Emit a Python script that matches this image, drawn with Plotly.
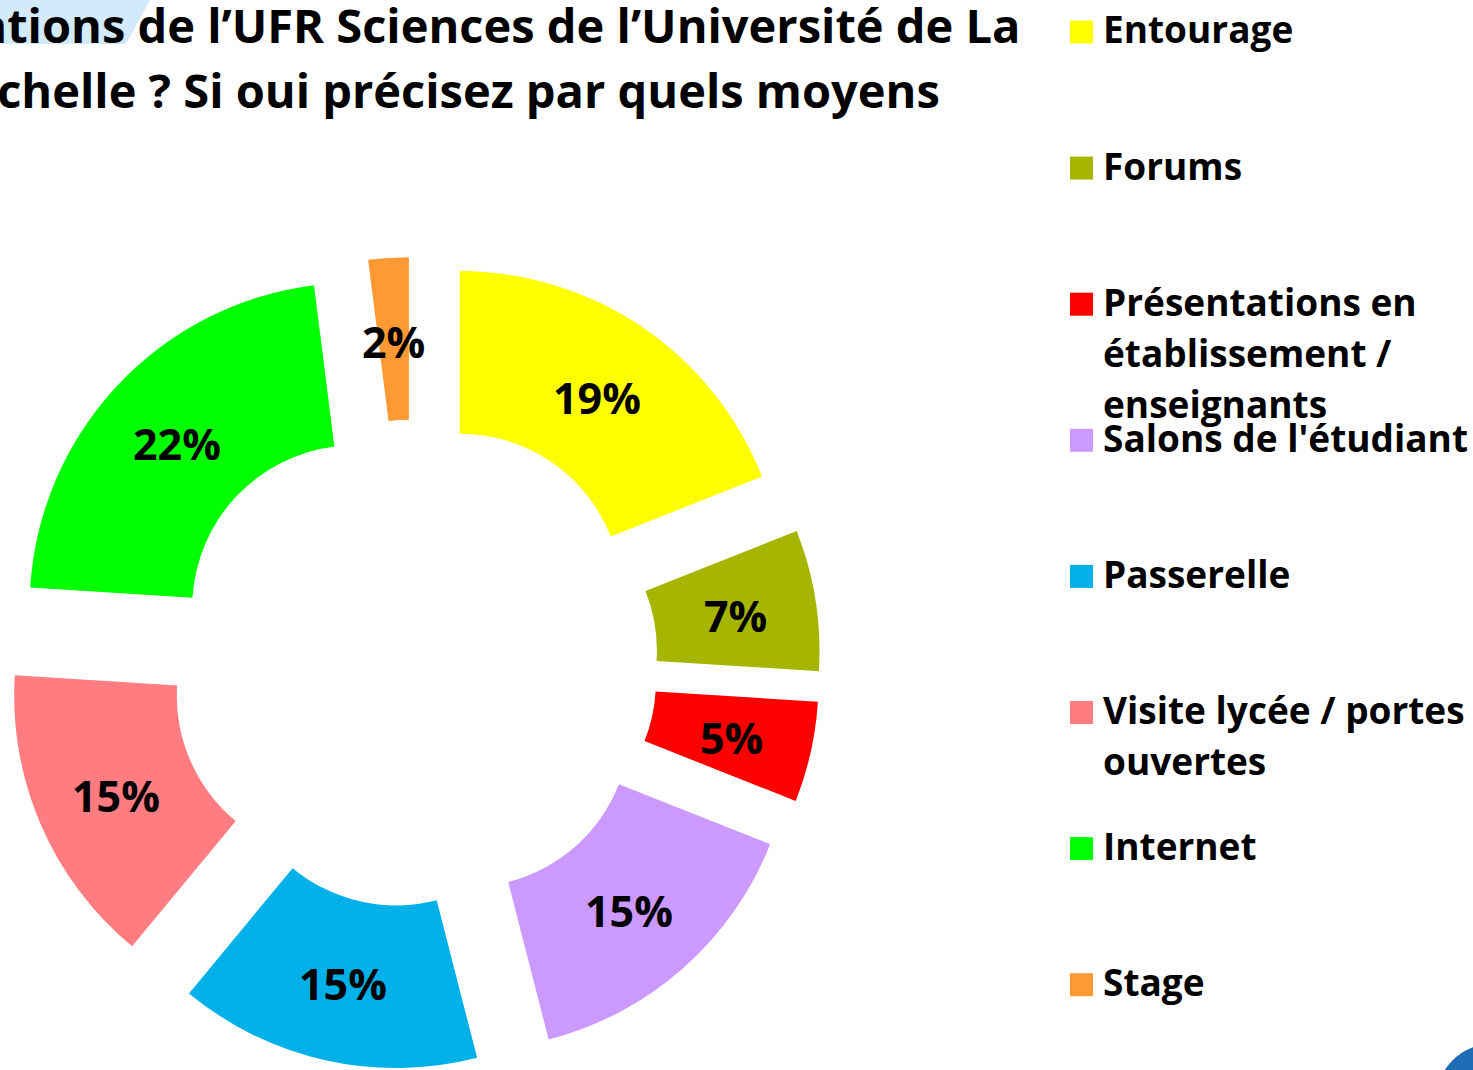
import math
import textwrap
import plotly.graph_objects as go

# ---------------- data ----------------
labels = [
    "Entourage",
    "Forums",
    "Présentations en établissement / enseignants",
    "Salons de l'étudiant",
    "Passerelle",
    "Visite lycée / portes ouvertes",
    "Internet",
    "Stage",
]
values = [19, 7, 5, 15, 15, 15, 22, 2]
colors = ["#FFFF00", "#A6B600", "#FF0000", "#CC99FF", "#00B0E8", "#FF7C80", "#00FF00", "#FF9933"]
title_lines = [
    "formations de l’UFR Sciences de l’Université de La",
    "Rochelle ? Si oui précisez par quels moyens",
]

# ---------------- layout constants ----------------
W, H = 1473, 1070
FONT = "Open Sans"
HOLE = 0.5
PULL = 0.25
DOM_X = [4 / W, 824 / W]
DOM_Y = [0.0, (H - 257) / H]


def px(x):
    return x / W


def py(y):
    return 1 - y / H


fig = go.Figure()
fig.add_trace(
    go.Pie(
        labels=labels,
        values=values,
        marker=dict(colors=colors, line=dict(width=0)),
        hole=HOLE,
        pull=PULL,
        sort=False,
        direction="clockwise",
        rotation=0,
        textinfo="none",
        hoverinfo="label+percent",
        showlegend=False,
        domain=dict(x=DOM_X, y=DOM_Y),
    )
)

annotations = []
shapes = []

# percentage labels, placed at the middle of each (pulled) ring segment
dom_w = (DOM_X[1] - DOM_X[0]) * W
dom_h = (DOM_Y[1] - DOM_Y[0]) * H
R = min(dom_w, dom_h) / 2 / (1 + PULL)
cx = (DOM_X[0] + DOM_X[1]) / 2 * W
cy = H - (DOM_Y[0] + DOM_Y[1]) / 2 * H
total = sum(values)
cum = 0.0
for v in values:
    mid = (cum + v / 2) / total * 2 * math.pi
    cum += v
    dist = PULL * R + (1 + HOLE) / 2 * R
    lx = cx + dist * math.sin(mid)
    ly = cy - dist * math.cos(mid)
    annotations.append(
        dict(
            x=px(lx), y=py(ly + 3), xref="paper", yref="paper",
            text=f"{v / total * 100:.0f}%", showarrow=False,
            xanchor="center", yanchor="middle",
            font=dict(family=FONT, size=43, color="black", weight="bold"),
        )
    )

# legend (Excel-like fixed slots)
LEG_X, LEG_Y0, LEG_STEP, LINE_STEP, SQ = 1070, 32, 136.1, 51, 23
for i, (lab, col) in enumerate(zip(labels, colors)):
    yc = LEG_Y0 + LEG_STEP * i
    shapes.append(
        dict(
            type="rect", xref="paper", yref="paper",
            x0=px(LEG_X), x1=px(LEG_X + SQ), y0=py(yc - SQ / 2), y1=py(yc + SQ / 2),
            fillcolor=col, line=dict(width=0),
        )
    )
    for j, line in enumerate(textwrap.wrap(lab, 21)):
        annotations.append(
            dict(
                x=px(LEG_X + 31), y=py(yc - 3 + LINE_STEP * j), xref="paper", yref="paper",
                text=line, showarrow=False, xanchor="left", yanchor="middle",
                font=dict(family=FONT, size=37, color="black", weight="bold"),
            )
        )

# title (partly cut off on the left, as in the source capture)
shapes.append(
    dict(
        type="path", xref="paper", yref="paper",
        path=f"M 0,{py(0)} L {px(150)},{py(0)} L {px(126)},{py(44)} L 0,{py(44)} Z",
        fillcolor="#D3EAFB", line=dict(width=0), layer="below",
    )
)
for txt, xr, yc in zip(title_lines, [1022, 942], [25, 90]):
    annotations.append(
        dict(
            x=px(xr), y=py(yc), xref="paper", yref="paper",
            text=txt, showarrow=False, xanchor="right", yanchor="middle",
            font=dict(family=FONT, size=47, color="black", weight="bold"),
        )
    )

# partial round button in bottom-right corner
shapes.append(
    dict(
        type="circle", xref="paper", yref="paper",
        x0=px(1436), x1=px(1548), y0=py(1044), y1=py(1156),
        fillcolor="#1F6BB4", line=dict(width=0),
    )
)

fig.update_layout(
    width=W,
    height=H,
    margin=dict(l=0, r=0, t=0, b=0),
    paper_bgcolor="white",
    plot_bgcolor="white",
    showlegend=False,
    annotations=annotations,
    shapes=shapes,
    font=dict(family=FONT),
)

fig.write_html(
    "out.html",
    config={"displayModeBar": False},
    post_script="document.body.style.margin='0';document.body.style.overflow='hidden';",
)
